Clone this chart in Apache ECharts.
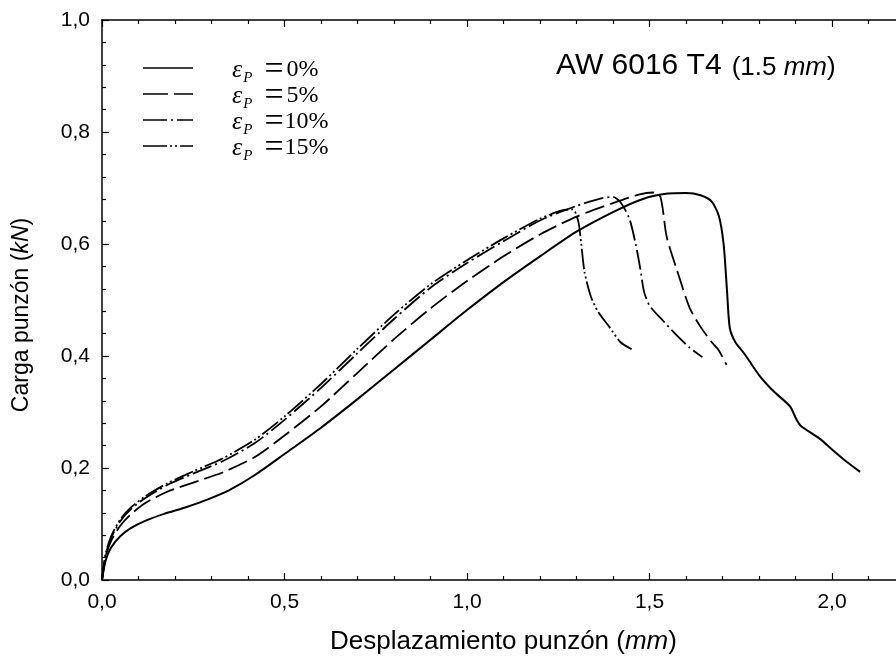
<!DOCTYPE html>
<html>
<head>
<meta charset="utf-8">
<script src="https://cdn.jsdelivr.net/npm/echarts@6/dist/echarts.min.js"></script>
<style>html,body{margin:0;padding:0;background:#fff}#c{width:896px;height:666px}</style>
</head>
<body>
<div id="c"></div>
<script>
// ---- data (punch displacement in mm, punch load in kN) ----
const x0 = [0, 0.01, 0.025, 0.05, 0.08, 0.12, 0.17, 0.23, 0.29, 0.35, 0.42, 0.5, 0.6, 0.7, 0.8, 0.9, 1.0, 1.1, 1.2, 1.3, 1.4, 1.48, 1.55, 1.6, 1.64, 1.67, 1.69, 1.703, 1.712, 1.72, 1.735, 1.76, 1.8, 1.84, 1.885, 1.903, 1.915, 1.967, 2.0, 2.04, 2.077];
const y0 = [0, 0.035, 0.058, 0.078, 0.093, 0.106, 0.118, 0.13, 0.144, 0.161, 0.188, 0.225, 0.272, 0.323, 0.376, 0.429, 0.482, 0.532, 0.578, 0.622, 0.657, 0.68, 0.69, 0.691, 0.687, 0.676, 0.65, 0.6, 0.52, 0.45, 0.425, 0.404, 0.366, 0.337, 0.31, 0.286, 0.275, 0.252, 0.233, 0.211, 0.193];
const x5 = [0, 0.01, 0.025, 0.05, 0.08, 0.12, 0.18, 0.25, 0.33, 0.42, 0.5, 0.6, 0.7, 0.8, 0.9, 1.0, 1.1, 1.2, 1.3, 1.4, 1.47, 1.51, 1.53, 1.547, 1.575, 1.61, 1.64, 1.67, 1.69, 1.711];
const y5 = [0, 0.042, 0.07, 0.097, 0.118, 0.138, 0.158, 0.174, 0.192, 0.22, 0.258, 0.31, 0.37, 0.43, 0.485, 0.534, 0.578, 0.617, 0.649, 0.673, 0.688, 0.692, 0.684, 0.613, 0.554, 0.486, 0.452, 0.425, 0.41, 0.384];
const x10 = [0, 0.01, 0.025, 0.05, 0.08, 0.12, 0.18, 0.25, 0.33, 0.42, 0.5, 0.6, 0.7, 0.8, 0.9, 1.0, 1.1, 1.2, 1.3, 1.37, 1.4, 1.42, 1.445, 1.462, 1.475, 1.485, 1.5, 1.53, 1.57, 1.61, 1.645];
const y10 = [0, 0.045, 0.075, 0.105, 0.127, 0.147, 0.17, 0.19, 0.212, 0.245, 0.286, 0.343, 0.405, 0.466, 0.522, 0.566, 0.605, 0.642, 0.668, 0.682, 0.684, 0.675, 0.645, 0.6, 0.555, 0.515, 0.49, 0.468, 0.44, 0.415, 0.398];
const x15 = [0, 0.01, 0.025, 0.05, 0.08, 0.12, 0.18, 0.25, 0.33, 0.42, 0.5, 0.6, 0.7, 0.8, 0.9, 1.0, 1.1, 1.2, 1.26, 1.29, 1.305, 1.313, 1.322, 1.34, 1.36, 1.39, 1.42, 1.451];
const y15 = [0, 0.047, 0.078, 0.108, 0.13, 0.15, 0.173, 0.194, 0.217, 0.251, 0.292, 0.35, 0.413, 0.474, 0.528, 0.571, 0.61, 0.645, 0.66, 0.662, 0.64, 0.6, 0.55, 0.505, 0.478, 0.452, 0.425, 0.412];
const strainLabels = ['0%', '5%', '10%', '15%'];
const xTicks = [0, 0.5, 1.0, 1.5, 2.0];
const yTicks = [0, 0.2, 0.4, 0.6, 0.8, 1.0];

const pairs = (xs, ys) => xs.map((x, i) => [x, ys[i]]);
const seriesData = [pairs(x0, y0), pairs(x5, y5), pairs(x10, y10), pairs(x15, y15)];
const dashes = ['solid', [20, 6], [20, 4, 2, 4], [20, 3, 2, 3, 2, 3]];
const legendDashes = [null, [25, 6], [24, 4, 2, 4], [24, 3, 2, 3, 2, 3]];
const legendRows = [68, 94, 120, 146];

const sans = 'Liberation Sans, Arial, sans-serif';
const serif = 'Liberation Serif, Times New Roman, serif';
const comma = v => v.toFixed(1).replace('.', ',');

const graphics = [];
strainLabels.forEach((s, i) => {
  graphics.push({
    type: 'line', silent: true,
    shape: {x1: 143, y1: legendRows[i], x2: 193, y2: legendRows[i]},
    style: {stroke: '#000', lineWidth: 1.6, lineDash: legendDashes[i]}
  });
  graphics.push({
    type: 'text', silent: true, x: 232, y: legendRows[i] + 2,
    style: {
      text: '{e|ε}{s|P}{q|=}{t|' + s + '}',
      verticalAlign: 'middle', align: 'left',
      rich: {
        e: {fontFamily: serif, fontStyle: 'italic', fontSize: 26, fill: '#000', lineHeight: 24, verticalAlign: 'middle'},
        s: {fontFamily: serif, fontStyle: 'italic', fontSize: 15, fill: '#000', lineHeight: 32, verticalAlign: 'bottom', padding: [0, 12, 0, 1]},
        q: {fontFamily: serif, fontSize: 34, fill: '#000', lineHeight: 24, verticalAlign: 'middle', padding: [0, s.length < 3 ? 3 : 1, 0, 0]},
        t: {fontFamily: serif, fontSize: 24, fill: '#000', lineHeight: 24, verticalAlign: 'middle'}
      }
    }
  });
});
graphics.push({
  type: 'text', silent: true, x: 22, y: 315, rotation: Math.PI / 2,
  style: {
    text: '{n|Carga punzón (}{i|kN}{n|)}', align: 'center', verticalAlign: 'middle',
    rich: {
      n: {fontFamily: sans, fontSize: 23, fill: '#000'},
      i: {fontFamily: sans, fontSize: 23, fontStyle: 'italic', fill: '#000'}
    }
  }
});

const chart = echarts.init(document.getElementById('c'), null, {renderer: 'canvas'});
chart.setOption({
  animation: false,
  backgroundColor: '#fff',
  grid: {left: 102, top: 20, width: 803, height: 560, containLabel: false, outerBoundsMode: 'none'},
  title: {
    text: '{a|AW 6016 T4}{b|(1.5 }{c|mm}{b|)}',
    left: 551, top: 44,
    textStyle: {fontWeight: 'normal', rich: {
      a: {fontFamily: sans, fontSize: 30, fontWeight: 'normal', color: '#000', verticalAlign: 'bottom', lineHeight: 32, padding: [0, 10, 0, 0]},
      b: {fontFamily: sans, fontSize: 26, fontWeight: 'normal', color: '#000', verticalAlign: 'bottom', lineHeight: 29},
      c: {fontFamily: sans, fontSize: 26, fontWeight: 'normal', fontStyle: 'italic', color: '#000', verticalAlign: 'bottom', lineHeight: 29}
    }}
  },
  graphic: graphics,
  xAxis: [{
    type: 'value', min: 0, max: 2.2, interval: 0.5,
    name: '{n|Desplazamiento punzón (}{i|mm}{n|)}', nameLocation: 'middle', nameGap: 49,
    nameTextStyle: {rich: {
      n: {fontFamily: sans, fontSize: 26, color: '#000'},
      i: {fontFamily: sans, fontSize: 26, fontStyle: 'italic', color: '#000'}
    }},
    axisLine: {show: true, lineStyle: {color: '#000', width: 1.5}},
    axisTick: {show: true, inside: true, length: 7, lineStyle: {color: '#000', width: 1.2}},
    minorTick: {show: true, splitNumber: 5, length: 4, lineStyle: {color: '#000', width: 1.2}},
    axisLabel: {fontFamily: sans, fontSize: 21, color: '#000', margin: 12,
      formatter: v => xTicks.some(t => Math.abs(t - v) < 1e-9) ? comma(v) : ''},
    splitLine: {show: false}
  }, {
    type: 'value', min: 0, max: 2.2, interval: 0.5, position: 'top',
    axisLine: {show: true, lineStyle: {color: '#000', width: 1.5}},
    axisTick: {show: true, inside: true, length: 7, lineStyle: {color: '#000', width: 1.2}},
    minorTick: {show: true, splitNumber: 5, length: 4, lineStyle: {color: '#000', width: 1.2}},
    axisLabel: {show: false}, splitLine: {show: false}
  }],
  yAxis: {
    type: 'value', min: 0, max: 1, interval: 0.2,
    axisLine: {show: true, lineStyle: {color: '#000', width: 1.5}},
    axisTick: {show: true, inside: true, length: 7, lineStyle: {color: '#000', width: 1.2}},
    minorTick: {show: true, splitNumber: 5, length: 4, lineStyle: {color: '#000', width: 1.2}},
    axisLabel: {fontFamily: sans, fontSize: 21, color: '#000', margin: 12,
      formatter: v => yTicks.some(t => Math.abs(t - v) < 1e-9) ? comma(v) : ''},
    splitLine: {show: false}
  },
  series: seriesData.map((d, i) => ({
    type: 'line', name: 'εP = ' + strainLabels[i], data: d, xAxisIndex: 0,
    showSymbol: false, symbol: 'none', smooth: 0.25,
    lineStyle: {color: '#000', width: i === 0 ? 2 : 1.8, type: dashes[i]}
  }))
});
</script>
</body>
</html>
